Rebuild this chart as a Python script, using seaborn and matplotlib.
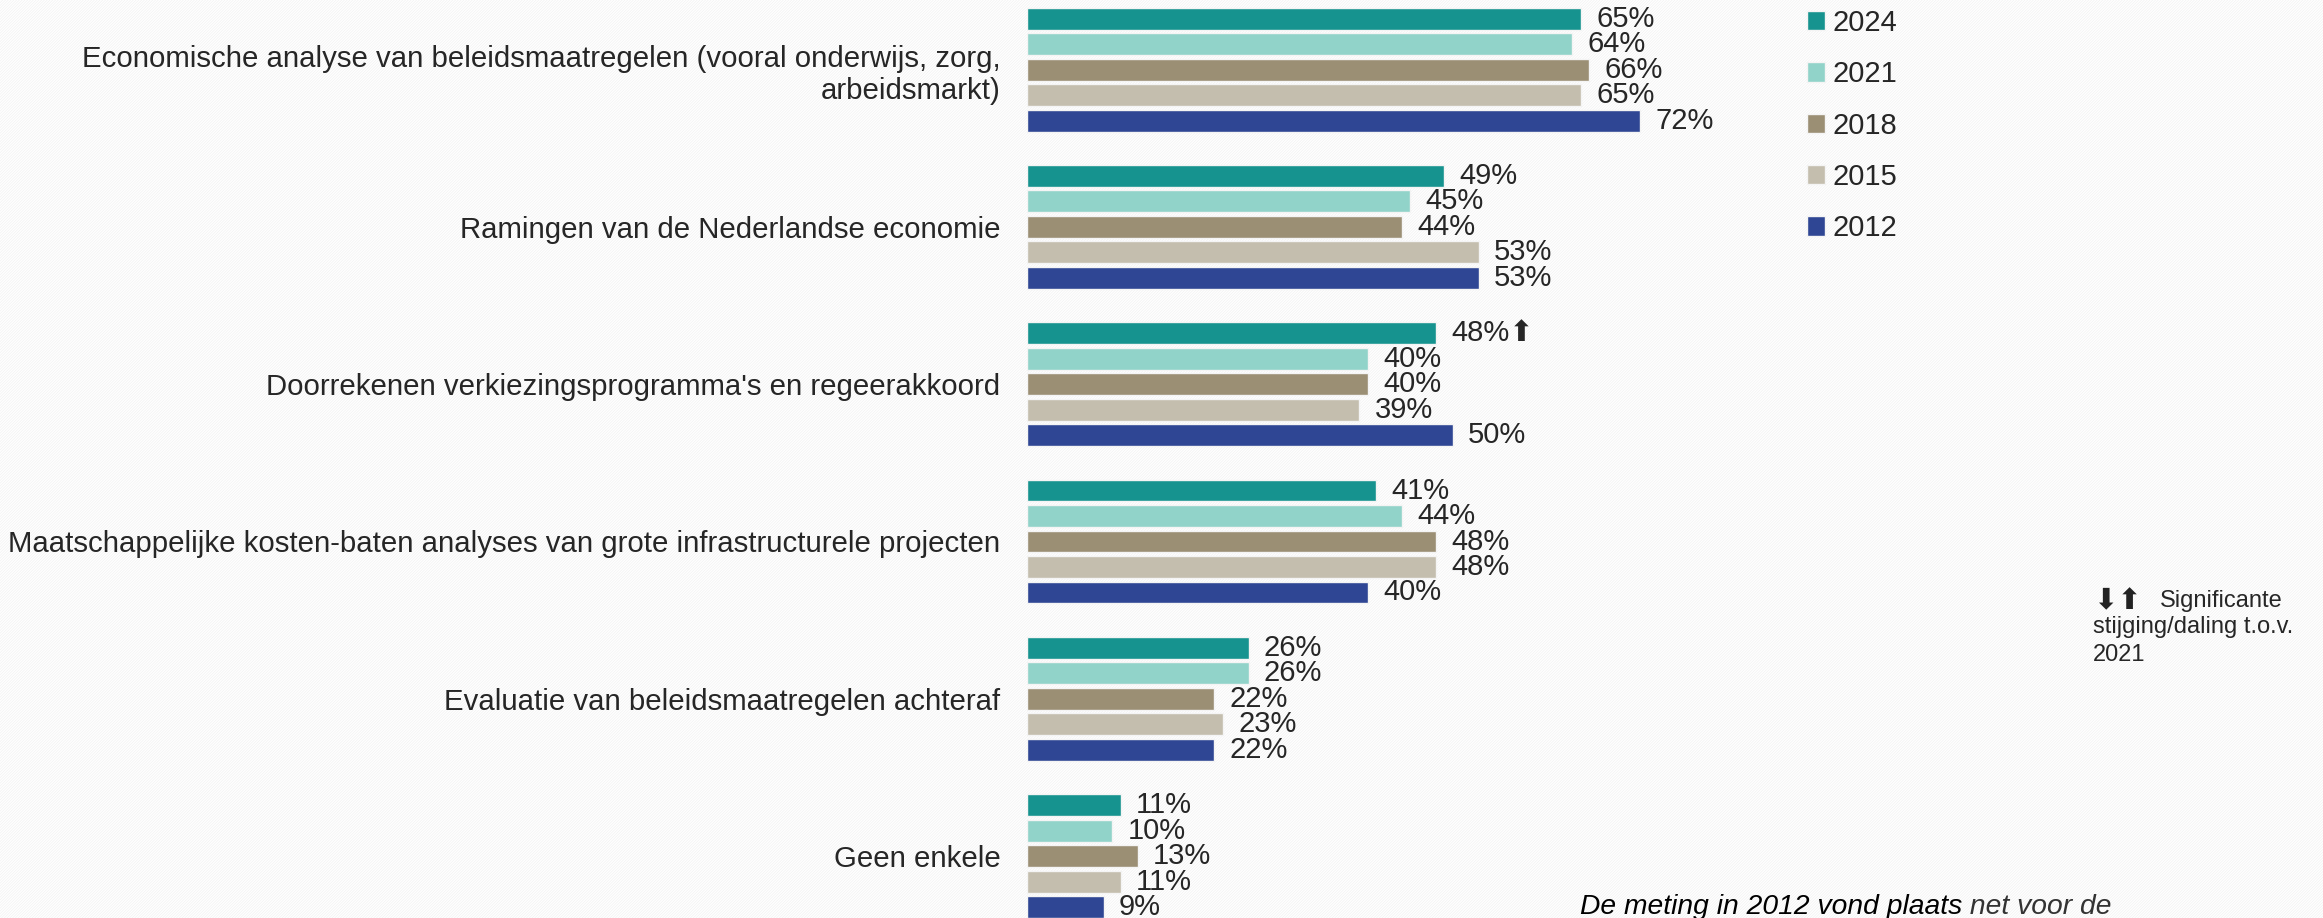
import matplotlib
matplotlib.use("Agg")
import matplotlib.pyplot as plt
import seaborn as sns
import pandas as pd
from matplotlib.patches import Rectangle

# ---------------- data ----------------
categories = [
    "Economische analyse van beleidsmaatregelen (vooral onderwijs, zorg,\narbeidsmarkt)",
    "Ramingen van de Nederlandse economie",
    "Doorrekenen verkiezingsprogramma's en regeerakkoord",
    "Maatschappelijke kosten-baten analyses van grote infrastructurele projecten",
    "Evaluatie van beleidsmaatregelen achteraf",
    "Geen enkele",
]
years = ["2024", "2021", "2018", "2015", "2012"]
v2024 = [65, 49, 48, 41, 26, 11]
v2021 = [64, 45, 40, 44, 26, 10]
v2018 = [66, 44, 40, 48, 22, 13]
v2015 = [65, 53, 39, 48, 23, 11]
v2012 = [72, 53, 50, 40, 22, 9]
sig2024 = ["", "", "up", "", "", ""]
colors = ["#16938f", "#91d3c9", "#9b8f74", "#c4beae", "#2f4694"]
note_arrows = "⬇⬆"
note_line1 = "Significante"
note_rest = "stijging/daling t.o.v.\n2021"
foot_a = "De meting in 2012 vond plaats"
foot_b = " net voor de"

series = {"2024": v2024, "2021": v2021, "2018": v2018, "2015": v2015, "2012": v2012}
sigs = {"2024": sig2024}
rows = []
for y in years:
    for c, v in zip(categories, series[y]):
        rows.append({"categorie": c, "jaar": y, "waarde": v})
df = pd.DataFrame(rows)

# ---------------- style ----------------
sns.set_theme(style="white")
plt.rcParams["font.family"] = ["Liberation Sans", "DejaVu Sans"]
plt.rcParams["hatch.linewidth"] = 0.4
TXT = "#262626"

W, H = 2323, 918
fig = plt.figure(figsize=(W / 100, H / 100), dpi=100)
fig.patch.set_facecolor("white")
bg = Rectangle((0, 0), 1, 1, transform=fig.transFigure, facecolor="white",
               edgecolor="#efefef", hatch="/" * 12, linewidth=0, zorder=-10)
fig.patches.append(bg)

x0 = 1027
ax = fig.add_axes([x0 / W, 0, 1 - x0 / W, 1])
ax.patch.set_alpha(0)

palette = dict(zip(years, colors))
sns.barplot(data=df, y="categorie", x="waarde", hue="jaar", hue_order=years,
            order=categories, palette=palette, orient="h", width=0.81, gap=0.14,
            edgecolor="#f4f4f4", linewidth=1.0, saturation=1, ax=ax, legend=True)

px_per_pct = 8.52
ax.set_xlim(0, (W - x0) / px_per_pct)
c0, pitch = 69.6, 157.3
ax.set_ylim(5 + (H - (c0 + 5 * pitch)) / pitch, -c0 / pitch)

for s in ax.spines.values():
    s.set_visible(False)
ax.set_xticks([])
ax.set_xlabel("")
ax.set_ylabel("")
ax.tick_params(axis="y", length=0, pad=19, labelsize=21.2, labelcolor=TXT)

# value labels
for cont, y in zip(ax.containers, years):
    labs = []
    for i, v in enumerate(series[y]):
        t = f"{v}%"
        if y in sigs and sigs[y][i] == "up":
            t += "⬆"
        elif y in sigs and sigs[y][i] == "down":
            t += "⬇"
        labs.append(t)
    ax.bar_label(cont, labels=labs, padding=11, fontsize=21, color=TXT)

# legend
handles, labels = ax.get_legend_handles_labels()
ax.get_legend().remove()
fig.legend(handles, labels, loc="upper left",
           bbox_to_anchor=(1807 / W, 1 - 9 / H), frameon=False,
           fontsize=21, labelcolor=TXT, handlelength=0.6, handleheight=0.65,
           handletextpad=0.28, labelspacing=0.80, borderpad=0, borderaxespad=0)

# note
fig.text(2093 / W, 1 - 601 / H, note_arrows, fontsize=21, color="#222222",
         ha="left", va="center", family="DejaVu Sans")
fig.text(2160 / W, 1 - 601 / H, note_line1, fontsize=17, color=TXT,
         ha="left", va="center")
fig.text(2093 / W, 1 - 616 / H, note_rest, fontsize=17, color=TXT,
         ha="left", va="top", linespacing=1.35)

# footnote
t1 = fig.text(1580 / W, 1 - 907 / H, foot_a, fontsize=20.3, style="italic",
              color="#000000", ha="left", va="center")
ax.annotate(foot_b, xy=(1, 0.5), xycoords=t1, ha="left", va="center",
            fontsize=20.3, style="italic", color="#333333", annotation_clip=False)

fig.savefig("out.png", dpi=100, facecolor="white")
